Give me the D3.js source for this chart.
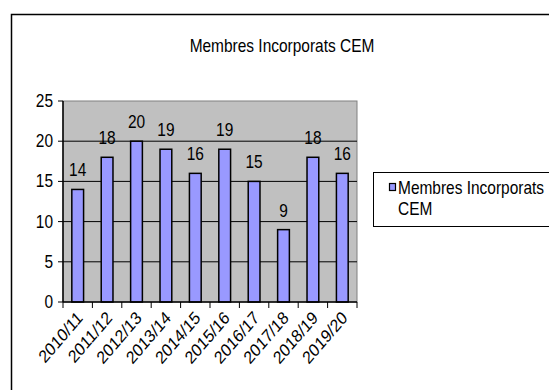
<!DOCTYPE html>
<html>
<head>
<meta charset="utf-8">
<script src="https://cdn.jsdelivr.net/npm/d3@7"></script>
<style>
  html, body { margin: 0; padding: 0; background: #fff; }
  svg { display: block; }
  text { font-family: "Liberation Sans", Arial, sans-serif; fill: #000; }
</style>
</head>
<body>
<svg id="chart" width="549" height="390"></svg>
<script>
// Data
const categories = ["2010/11", "2011/12", "2012/13", "2013/14", "2014/15",
                    "2015/16", "2016/17", "2017/18", "2018/19", "2019/20"];
const values = [14, 18, 20, 19, 16, 19, 15, 9, 18, 16];
const yTicks = [0, 5, 10, 15, 20, 25];
const chartTitle = "Membres Incorporats CEM";
const seriesName = ["Membres Incorporats", "CEM"];

const svg = d3.select("#chart");
const FS = 18;       // font size
const SX = 0.86;     // horizontal glyph scale (narrow lettering)

function label(g, x, y, str, anchor, extra) {
  return g.append("text")
    .attr("transform", `translate(${x},${y}) scale(${SX},1)` + (extra || ""))
    .attr("text-anchor", anchor)
    .attr("font-size", FS)
    .text(str);
}

// Outer chart frame (runs off the right and bottom edges)
svg.append("rect")
  .attr("x", 11.5).attr("y", 14.5)
  .attr("width", 600).attr("height", 420)
  .attr("fill", "#fff").attr("stroke", "#000").attr("stroke-width", 1.5);

// Title
label(svg, 282, 52, chartTitle, "middle");

// Plot area
const plot = { left: 63, top: 101, right: 357, bottom: 302 };

const x = d3.scaleBand()
  .domain(categories)
  .range([plot.left, plot.right])
  .paddingInner(0.6)
  .paddingOuter(0.3);

const y = d3.scaleLinear()
  .domain([0, 25])
  .range([plot.bottom, plot.top]);

svg.append("rect")
  .attr("x", plot.left).attr("y", plot.top)
  .attr("width", plot.right - plot.left).attr("height", plot.bottom - plot.top)
  .attr("fill", "#c0c0c0").attr("stroke", "#808080").attr("stroke-width", 1);

// Horizontal gridlines
svg.append("g").selectAll("line")
  .data(yTicks.filter(t => t > 0 && t < 25))
  .join("line")
  .attr("x1", plot.left).attr("x2", plot.right)
  .attr("y1", d => y(d)).attr("y2", d => y(d))
  .attr("stroke", "#000").attr("stroke-width", 1);

// Bars
svg.append("g").selectAll("rect")
  .data(values)
  .join("rect")
  .attr("x", (d, i) => x(categories[i]))
  .attr("y", d => y(d))
  .attr("width", x.bandwidth())
  .attr("height", d => y(0) - y(d))
  .attr("fill", "#9999ff")
  .attr("stroke", "#000")
  .attr("stroke-width", 1.5);

// Value labels
const vl = svg.append("g");
values.forEach((v, i) => {
  label(vl, x(categories[i]) + x.bandwidth() / 2, y(v) - 13, String(v), "middle");
});

// Y axis
const yAxis = svg.append("g");
yAxis.append("line")
  .attr("x1", plot.left).attr("x2", plot.left)
  .attr("y1", plot.top).attr("y2", plot.bottom)
  .attr("stroke", "#000").attr("stroke-width", 1.5);
yTicks.forEach(t => {
  yAxis.append("line")
    .attr("x1", plot.left - 5).attr("x2", plot.left)
    .attr("y1", y(t)).attr("y2", y(t))
    .attr("stroke", "#000").attr("stroke-width", 1);
  label(yAxis, plot.left - 10, y(t) + 6, String(t), "end");
});

// X axis
const xAxis = svg.append("g");
xAxis.append("line")
  .attr("x1", plot.left).attr("x2", plot.right)
  .attr("y1", plot.bottom).attr("y2", plot.bottom)
  .attr("stroke", "#000").attr("stroke-width", 1.5);
const step = x.step();
const half = (step - x.bandwidth()) / 2;
const bounds = categories.map(c => x(c) - half).concat([x(categories[categories.length - 1]) + x.bandwidth() + half]);
bounds.forEach(b => {
  xAxis.append("line")
    .attr("x1", b).attr("x2", b)
    .attr("y1", plot.bottom).attr("y2", plot.bottom + 6)
    .attr("stroke", "#000").attr("stroke-width", 1);
});
categories.forEach(c => {
  const cx = x(c) + x.bandwidth() / 2;
  xAxis.append("text")
    .attr("transform", `translate(${cx + 6},${plot.bottom + 17}) scale(${SX},1) rotate(-45)`)
    .attr("text-anchor", "end")
    .attr("font-size", FS)
    .text(c);
});

// Legend
const lg = svg.append("g");
lg.append("rect")
  .attr("x", 373.5).attr("y", 172.5)
  .attr("width", 200).attr("height", 54)
  .attr("fill", "#fff").attr("stroke", "#000").attr("stroke-width", 1);
lg.append("rect")
  .attr("x", 389.5).attr("y", 183.5)
  .attr("width", 6).attr("height", 7)
  .attr("fill", "#9999ff").attr("stroke", "#000").attr("stroke-width", 1.2);
label(lg, 398, 194, seriesName[0], "start");
label(lg, 398, 215, seriesName[1], "start");
</script>
</body>
</html>
